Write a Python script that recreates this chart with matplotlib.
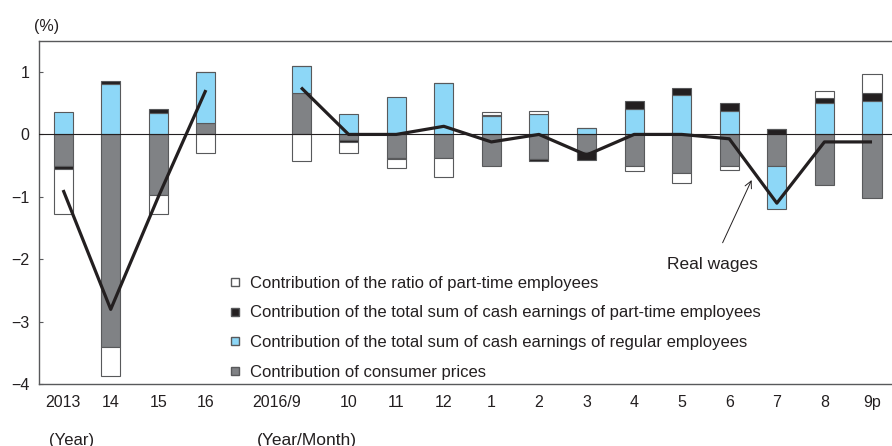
import matplotlib
matplotlib.use("Agg")
from matplotlib import pyplot as plt
from matplotlib.lines import Line2D
import numpy as np

plt.rcParams['font.family'] = ['Liberation Sans', 'DejaVu Sans']

# categories: 4 years, then monthly 2016/9 .. 2017/9p
labels = ['2013', '14', '15', '16', '2016/9', '10', '11', '12', '1', '2', '3',
          '4', '5', '6', '7', '8', '9p']
xpos = [0, 1, 2, 3, 5, 6, 7, 8, 9, 10, 11, 12, 13, 14, 15, 16, 17]

# contributions (percentage points)
prices = [-0.50, -3.41, -0.97, 0.19, 0.67, -0.09, -0.38, -0.38, -0.50, -0.40, -0.28,
          -0.51, -0.61, -0.51, -0.51, -0.81, -1.01]
regular = [0.36, 0.80, 0.35, 0.81, 0.43, 0.32, 0.60, 0.82, 0.30, 0.32, 0.11,
           0.41, 0.63, 0.38, -0.68, 0.51, 0.53]
parttime = [-0.05, 0.05, 0.06, 0.0, 0.0, -0.03, -0.02, 0.0, 0.01, -0.02, -0.13,
            0.12, 0.12, 0.12, 0.08, 0.08, 0.14]
ratio = [-0.73, -0.46, -0.31, -0.30, -0.42, -0.17, -0.13, -0.30, 0.05, 0.06, 0.0,
         -0.07, -0.16, -0.06, 0.01, 0.10, 0.29]
real_wages = [-0.89, -2.8, -1.0, 0.71, 0.75, 0.0, 0.0, 0.13, -0.12, 0.0, -0.33,
              0.0, 0.0, -0.07, -1.10, -0.12, -0.12]

c_white = '#ffffff'
c_black = '#231f20'
c_blue = '#8dd7f7'
c_gray = '#808285'
edge = '#58595b'
txt = '#231f20'

fig = plt.figure(figsize=(8.92, 4.46), dpi=100)
ax = fig.add_axes([0.0441, 0.1383, 0.9559, 0.7704])

width = 0.4
pos_bottom = np.zeros(len(xpos))
neg_bottom = np.zeros(len(xpos))
for series, color in [(prices, c_gray), (regular, c_blue), (parttime, c_black), (ratio, c_white)]:
    v = np.array(series)
    bottom = np.where(v >= 0, pos_bottom, neg_bottom)
    ax.bar(xpos, v, width=width, bottom=bottom, color=color, edgecolor=edge, linewidth=0.8, zorder=2)
    pos_bottom += np.where(v >= 0, v, 0)
    neg_bottom += np.where(v < 0, v, 0)

ax.axhline(0, color=txt, linewidth=0.8, zorder=3)

# real wages line, split between annual and monthly parts
ax.plot(xpos[:4], real_wages[:4], color=c_black, linewidth=2.3, zorder=4, solid_capstyle='butt')
ax.plot(xpos[4:], real_wages[4:], color=c_black, linewidth=2.3, zorder=4, solid_capstyle='butt')

ax.annotate('Real wages', xy=(14.47, -0.73), xytext=(13.65, -2.08),
            ha='center', va='center', fontsize=12.5, color=txt,
            arrowprops=dict(arrowstyle='->', color=txt, linewidth=0.7,
                            shrinkA=9, shrinkB=0))

ax.set_xlim(-0.5, 17.42)
ax.set_ylim(-4, 1.5)
ax.set_xticks(xpos)
ax.set_xticklabels(labels)
ax.get_xticklabels()[4].set_ha('right')
ax.get_xticklabels()[4].set_x(5.1)
ax.set_yticks([-4, -3, -2, -1, 0, 1])
ax.set_yticklabels(['\u22124', '\u22123', '\u22122', '\u22121', '0', '1'])
ax.tick_params(axis='x', length=0, labelsize=11.5, pad=8, colors=txt)
ax.tick_params(axis='y', direction='in', length=3, width=0.8, labelsize=11.5, pad=7,
               color=edge, labelcolor=txt)
for s in ['left', 'top', 'bottom']:
    ax.spines[s].set_color(edge)
    ax.spines[s].set_linewidth(1.0)
ax.spines['right'].set_visible(False)

handles = [
    Line2D([], [], marker='s', linestyle='none', markersize=6, markerfacecolor=c_white, markeredgecolor=edge),
    Line2D([], [], marker='s', linestyle='none', markersize=6, markerfacecolor=c_black, markeredgecolor=edge),
    Line2D([], [], marker='s', linestyle='none', markersize=6, markerfacecolor=c_blue, markeredgecolor=edge),
    Line2D([], [], marker='s', linestyle='none', markersize=6, markerfacecolor=c_gray, markeredgecolor=edge),
]
leg_labels = ['Contribution of the ratio of part-time employees',
              'Contribution of the total sum of cash earnings of part-time employees',
              'Contribution of the total sum of cash earnings of regular employees',
              'Contribution of consumer prices']
ax.legend(handles, leg_labels, loc='upper left', bbox_to_anchor=(229 / 892, 1 - 276 / 446),
          bbox_transform=fig.transFigure, frameon=False, fontsize=12, handlelength=0.7,
          handletextpad=0.55, labelspacing=0.87, borderpad=0, borderaxespad=0,
          labelcolor=txt)

fig.text(47 / 892, 1 - 27 / 446, '(%)', ha='center', va='center', fontsize=11.5, color=txt)
fig.text(72 / 892, 1 - 440 / 446, '(Year)', ha='center', va='center', fontsize=12, color=txt)
fig.text(307 / 892, 1 - 440 / 446, '(Year/Month)', ha='center', va='center', fontsize=12.5, color=txt)

fig.savefig('out.png', dpi=100)
